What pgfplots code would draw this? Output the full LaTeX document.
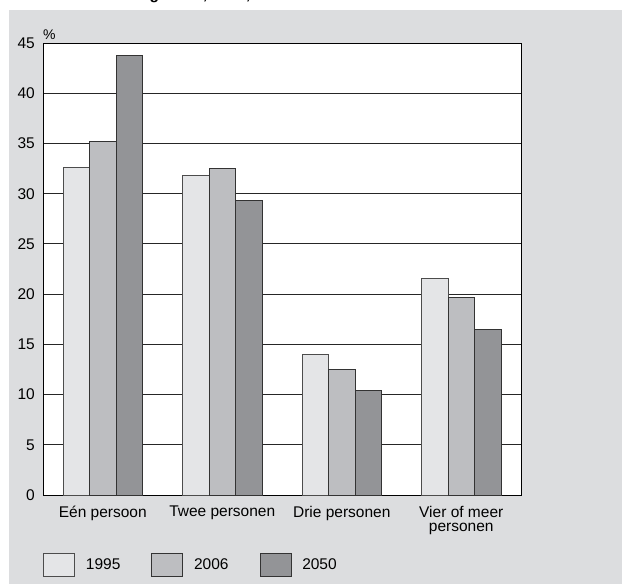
\documentclass[border=0pt]{standalone}
\usepackage{fontspec}
\setmainfont{Liberation Sans}
\usepackage{pgfplots}
\pgfplotsset{compat=1.18}

\definecolor{panel}{HTML}{DCDDDF}
\definecolor{c1995}{HTML}{E4E5E7}
\definecolor{c2006}{HTML}{BDBEC1}
\definecolor{c2050}{HTML}{939497}

\begin{document}
\fontsize{15.5pt}{18pt}\selectfont
\begin{tikzpicture}
  \useasboundingbox (0,0) rectangle (622pt,584pt);
  \fill[panel] (9pt,0) rectangle (622pt,574pt);
  \begin{scope}
    \clip (0,574pt) rectangle (622pt,584pt);
    \node[anchor=base west, inner sep=0pt, font=\bfseries] at (10pt,584pt)
      {Huishoudens naar grootte, 1995, 2006 en 2050};
  \end{scope}
  \begin{axis}[
    at={(43pt,89pt)}, anchor=south west,
    scale only axis,
    width=478pt, height=452pt,
    ybar=0pt, bar width=26.5pt,
    xmin=-0.5, xmax=3.5,
    ymin=0, ymax=45,
    ytick={0,5,...,45},
    xtick={0,1,2,3},
    xticklabels={\strut Eén persoon, \strut Twee personen, \strut Drie personen,
      {\strut Vier of meer\\personen}},
    xticklabel style={align=center, anchor=north, inner sep=0pt, yshift=-11pt,
      font=\fontsize{15.5pt}{14.5pt}\selectfont},
    yticklabel style={inner sep=0pt, xshift=-8pt, font=\fontsize{15.5pt}{16pt}\selectfont},
    major tick length=0pt,
    ymajorgrids,
    grid style={black!85, line width=0.8pt},
    axis line style={black, line width=0.8pt},
    axis background/.style={fill=white},
    /pgf/number format/assume math mode=true,
    legend style={at={(0,-0.155)}, anchor=west, draw=none, fill=none,
      inner sep=0pt, legend columns=3,
      nodes={inner sep=0pt, font=\fontsize{15.5pt}{18pt}\selectfont},
      /tikz/every even column/.append style={column sep=31pt}},
    legend image code/.code={%
      \draw[#1, line width=0.6pt] (0pt,-11.5pt) rectangle (31pt,11.5pt);
      \path (42pt,0pt);},
    clip=false,
  ]
    \addplot[fill=c1995, draw=black!70, line width=0.8pt]
      coordinates {(0,32.6) (1,31.8) (2,14.0) (3,21.6)};
    \addplot[fill=c2006, draw=black!80, line width=0.8pt]
      coordinates {(0,35.2) (1,32.5) (2,12.5) (3,19.7)};
    \addplot[fill=c2050, draw=black!80, line width=0.8pt]
      coordinates {(0,43.8) (1,29.3) (2,10.4) (3,16.5)};
    \legend{1995, 2006, 2050}
    \node[anchor=south west, inner sep=0pt, font=\fontsize{14pt}{16pt}\selectfont]
      at (rel axis cs:0,1) [yshift=3pt] {\%};
  \end{axis}
\end{tikzpicture}
\end{document}
